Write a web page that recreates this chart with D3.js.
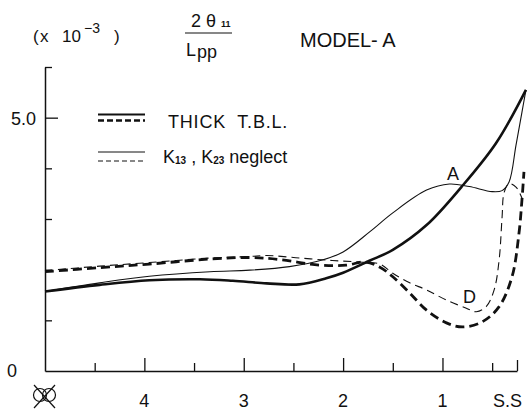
<!DOCTYPE html>
<html>
<head>
<meta charset="utf-8">
<script src="https://cdn.jsdelivr.net/npm/d3@7"></script>
<style>
  html, body { margin: 0; padding: 0; background: #fff; }
  svg { display: block; }
  text { font-family: "Liberation Sans", Arial, sans-serif; fill: #111; white-space: pre; }
</style>
</head>
<body>
<svg id="chart" width="531" height="412"></svg>
<script>
// ---- data (stations along hull, values x10^-3) ----
const thickSolidSta = [5.0, 4.45, 3.95, 3.44, 3.11, 2.77, 2.44, 2.17, 2.0, 1.73, 1.5, 1.16, 0.81, 0.46, 0.16];
const thickSolidVal = [1.57, 1.70, 1.79, 1.81, 1.78, 1.73, 1.71, 1.83, 1.94, 2.18, 2.39, 2.88, 3.63, 4.50, 5.55];

const thinSolidSta = [5.0, 4.45, 3.95, 3.34, 2.94, 2.54, 2.21, 2.0, 1.73, 1.5, 1.16, 0.93, 0.73, 0.50, 0.40, 0.33, 0.26, 0.20, 0.16];
const thinSolidVal = [1.57, 1.74, 1.87, 1.96, 1.99, 2.06, 2.19, 2.35, 2.75, 3.12, 3.57, 3.69, 3.64, 3.54, 3.56, 3.73, 4.46, 5.11, 5.55];

const thickDashSta = [5.0, 4.45, 3.95, 3.34, 2.94, 2.64, 2.24, 1.97, 1.78, 1.63, 1.50, 1.33, 1.16, 0.96, 0.80, 0.60, 0.43, 0.30, 0.23, 0.20, 0.18];
const thickDashVal = [1.96, 2.04, 2.11, 2.21, 2.24, 2.20, 2.09, 2.09, 2.15, 2.05, 1.86, 1.54, 1.20, 0.95, 0.87, 0.97, 1.27, 1.86, 2.72, 3.38, 3.93];

const thinDashSta = [5.0, 4.45, 3.95, 3.34, 2.94, 2.77, 2.44, 2.11, 1.83, 1.63, 1.50, 1.33, 1.16, 0.96, 0.76, 0.66, 0.56, 0.48, 0.43, 0.40, 0.38, 0.33, 0.26, 0.20];
const thinDashVal = [1.98, 2.07, 2.14, 2.23, 2.26, 2.28, 2.23, 2.18, 2.15, 2.11, 1.93, 1.74, 1.60, 1.40, 1.24, 1.17, 1.27, 1.60, 2.19, 3.04, 3.52, 3.70, 3.63, 3.41];

const xTickValues = [5, 4.5, 4, 3.5, 3, 2.5, 2, 1.5, 1, 0.5, 0.25];
const xTickLabels = {4: "4", 3: "3", 2: "2", 1: "1"};
const yTickValues = [0, 1, 2, 3, 4, 5, 6];
const yTickLabels = {0: "0", 5: "5.0"};
const legendLabels = ["THICK  T.B.L.", "neglect"];

// ---- scales ----
const svg = d3.select("#chart");
const x = d3.scaleLinear().domain([5, 0.25]).range([45, 517]);
const y = d3.scaleLinear().domain([0, 6]).range([371, 67]);

// ---- axes ----
const xAxis = svg.append("g").attr("transform", `translate(0,${y(0)})`)
  .call(d3.axisBottom(x).tickValues(xTickValues).tickSize(-12).tickSizeOuter(0).tickFormat(""));
xAxis.select(".domain").attr("stroke", "#111").attr("stroke-width", 1.5);
xAxis.selectAll(".tick line").attr("stroke", "#111").attr("stroke-width", 1.3)
  .attr("y2", d => d === 5 ? 0 : (Number.isInteger(d) ? -13 : (d === 0.25 ? -11 : -8)));

const yAxis = svg.append("g").attr("transform", `translate(${x(5)},0)`)
  .call(d3.axisLeft(y).tickValues(yTickValues).tickSize(-7).tickSizeOuter(0).tickFormat(""));
yAxis.select(".domain").attr("stroke", "#111").attr("stroke-width", 1.5);
yAxis.selectAll(".tick line").attr("stroke", "#111").attr("stroke-width", 1.3)
  .attr("x2", d => d === 0 ? 0 : (d === 5 ? 13 : 7));

// tick labels
xTickValues.filter(d => xTickLabels[d]).forEach(d => {
  svg.append("text").attr("x", x(d)).attr("y", 407).attr("text-anchor", "middle")
    .attr("font-size", 18).text(xTickLabels[d]);
});
svg.append("text").attr("x", 493).attr("y", 407).attr("font-size", 18).text("S.S");
// midship symbol
const ms = svg.append("g").attr("fill", "none").attr("stroke", "#111").attr("stroke-width", 1.2);
ms.append("circle").attr("cx", x(5) - 5).attr("cy", 395).attr("r", 6.5);
ms.append("circle").attr("cx", x(5) + 4).attr("cy", 395).attr("r", 6.5);
ms.append("line").attr("x1", x(5) - 11).attr("y1", 385).attr("x2", x(5) + 10).attr("y2", 408);
ms.append("line").attr("x1", x(5) + 10).attr("y1", 385).attr("x2", x(5) - 11).attr("y2", 408);

svg.append("text").attr("x", 36).attr("y", y(5) + 7).attr("text-anchor", "end").attr("font-size", 18).text(yTickLabels[5]);
svg.append("text").attr("x", 17).attr("y", y(0) + 6).attr("text-anchor", "end").attr("font-size", 18).text(yTickLabels[0]);

// ---- titles ----
const t1 = svg.append("text").attr("y", 42).attr("font-size", 17);
t1.append("tspan").attr("x", 33).text("(");
t1.append("tspan").attr("x", 40).text("x");
t1.append("tspan").attr("x", 62).text("10");
svg.append("text").attr("x", 84).attr("y", 33).attr("font-size", 14).text("\u22123");
svg.append("text").attr("x", 114).attr("y", 42).attr("font-size", 17).text(")");

svg.append("text").attr("x", 191).attr("y", 27).attr("font-size", 18).text("2");
svg.append("text").attr("x", 206).attr("y", 27).attr("font-size", 18).text("\u03b8");
svg.append("text").attr("x", 221).attr("y", 27).attr("font-size", 9).attr("font-weight", "bold").text("11");
svg.append("line").attr("x1", 185).attr("x2", 232).attr("y1", 33).attr("y2", 33).attr("stroke", "#111").attr("stroke-width", 1.2);
svg.append("text").attr("x", 186).attr("y", 56).attr("font-size", 18).text("L");
svg.append("text").attr("x", 197).attr("y", 58).attr("font-size", 18).text("pp");

svg.append("text").attr("x", 300).attr("y", 47).attr("font-size", 20).text("MODEL- A");

// ---- legend ----
const lg = svg.append("g");
lg.append("line").attr("x1", 98).attr("x2", 145).attr("y1", 114.5).attr("y2", 114.5).attr("stroke", "#111").attr("stroke-width", 2.2);
lg.append("line").attr("x1", 98).attr("x2", 145).attr("y1", 120.5).attr("y2", 120.5).attr("stroke", "#111").attr("stroke-width", 2.6).attr("stroke-dasharray", "6,3");
lg.append("line").attr("x1", 98).attr("x2", 145).attr("y1", 152).attr("y2", 152).attr("stroke", "#111").attr("stroke-width", 1);
lg.append("line").attr("x1", 98).attr("x2", 145).attr("y1", 161).attr("y2", 161).attr("stroke", "#111").attr("stroke-width", 1).attr("stroke-dasharray", "5,3");
lg.append("text").attr("x", 168).attr("y", 128).attr("font-size", 18).attr("letter-spacing", 0.8).text(legendLabels[0]);
const l2 = lg.append("text").attr("x", 163).attr("y", 163).attr("font-size", 18);
l2.append("tspan").text("K");
l2.append("tspan").attr("font-size", 10).attr("font-weight", "bold").attr("dy", 1).text("13");
l2.append("tspan").attr("dy", -1).text(" , K");
l2.append("tspan").attr("font-size", 10).attr("font-weight", "bold").attr("dy", 1).text("23");
l2.append("tspan").attr("dy", -1).text(" " + legendLabels[1]);

// ---- curves ----
const line = d3.line().x(d => x(d[0])).y(d => y(d[1])).curve(d3.curveCatmullRom.alpha(0.5));
const zip = (a, b) => a.map((s, i) => [s, b[i]]);
const g = svg.append("g").attr("fill", "none").attr("stroke", "#111").attr("stroke-linecap", "butt");
g.append("path").attr("d", line(zip(thinSolidSta, thinSolidVal))).attr("stroke-width", 1.1);
g.append("path").attr("d", line(zip(thinDashSta, thinDashVal))).attr("stroke-width", 1.1).attr("stroke-dasharray", "8,5");
g.append("path").attr("d", line(zip(thickDashSta, thickDashVal))).attr("stroke-width", 2.8).attr("stroke-dasharray", "9,5");
g.append("path").attr("d", line(zip(thickSolidSta, thickSolidVal))).attr("stroke-width", 2.6);

// curve labels
svg.append("text").attr("x", 447).attr("y", 180).attr("font-size", 18).text("A");
svg.append("text").attr("x", 463).attr("y", 303).attr("font-size", 18).text("D");
</script>
</body>
</html>
